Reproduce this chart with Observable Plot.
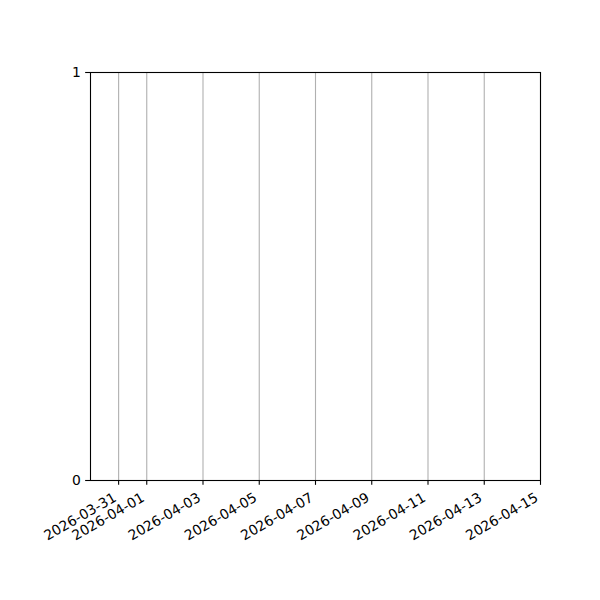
<!DOCTYPE html>
<html>
<head>
<meta charset="utf-8">
<script src="https://cdn.jsdelivr.net/npm/d3@7"></script>
<script src="https://cdn.jsdelivr.net/npm/@observablehq/plot@0.6"></script>
<style>
  html, body { margin: 0; padding: 0; background: #fff; }
  #chart { width: 600px; height: 600px; }
</style>
</head>
<body>
<div id="chart"></div>
<script>
const xDomainLabels = ["2026-03-30", "2026-04-15"];
const xTickLabels = ["2026-03-31", "2026-04-01", "2026-04-03", "2026-04-05", "2026-04-07", "2026-04-09", "2026-04-11", "2026-04-13", "2026-04-15"];
const yDomain = [0, 1];
const yTicks = [0, 1];

const parse = d3.utcParse("%Y-%m-%d");
const xDomain = xDomainLabels.map(parse);
const xTicks = xTickLabels.map(parse);
const tickData = xTickLabels.map((s) => ({date: parse(s), label: s}));

const fontSize = 13.9;
const chart = Plot.plot({
  width: 600,
  height: 600,
  marginLeft: 90,
  marginRight: 60,
  marginTop: 72,
  marginBottom: 120,
  style: {fontFamily: "DejaVu Sans", fontSize: fontSize + "px", color: "black", background: "white"},
  x: {type: "utc", domain: xDomain, axis: null},
  y: {type: "linear", domain: yDomain, axis: null},
  marks: [
    Plot.ruleX(xTicks, {stroke: "#b0b0b0", strokeWidth: 1.1}),
    Plot.frame({stroke: "black", strokeWidth: 1.1}),
    Plot.axisX({ticks: xTicks, tickSize: 4.86, strokeWidth: 1.1, tickFormat: () => ""}),
    Plot.axisY({ticks: yTicks, tickSize: 4.86, tickPadding: 4.86, strokeWidth: 1.1, fontSize: fontSize, tickFormat: d3.format("d")}),
    Plot.text(tickData, {
      x: "date",
      y: () => 0,
      text: "label",
      rotate: -30,
      textAnchor: "end",
      lineAnchor: "middle",
      dx: -3.5,
      dy: 16,
      fontSize: fontSize,
      fill: "black"
    })
  ]
});
document.getElementById("chart").appendChild(chart);
</script>
</body>
</html>
